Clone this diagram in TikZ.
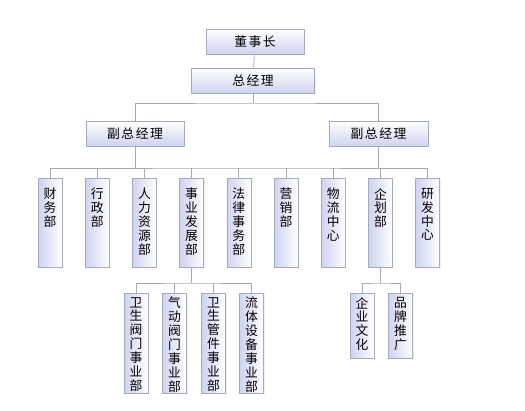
\documentclass[tikz,border=0pt]{standalone}
\usepackage{fontspec}
\newfontfamily\cjk[LetterSpace=12]{Noto Sans CJK SC}
\newfontfamily\cjkv{Noto Sans CJK SC}
\usetikzlibrary{shadows}
\definecolor{boxblue}{RGB}{206,211,240}
\definecolor{boxline}{RGB}{165,170,190}
\definecolor{linkgray}{RGB}{170,170,170}
\newcommand{\vcol}[2]{\parbox[c][#1][t]{14pt}{\centering\cjkv\fontsize{12.8}{13.9}\selectfont #2}}

\begin{document}
\begin{tikzpicture}[x=1pt, y=-1pt,
    box/.style={draw=boxline, inner sep=0pt,
                drop shadow={shadow xshift=1pt, shadow yshift=-1pt, fill=black!12}},
    hbox/.style={box, top color=white, bottom color=boxblue,
                 minimum height=25pt, font=\cjk\fontsize{12.8}{14}\selectfont},
    vbox/.style={box, left color=boxblue, right color=white,
                 minimum width=24pt, anchor=north},
    dept/.style={vbox, inner ysep=10pt},
    unit/.style={vbox, inner ysep=4pt},
    link/.style={draw=linkgray, line width=0.8pt},
  ]
  \useasboundingbox (0,0) rectangle (525,411);

  % Top
  \node[hbox, minimum width=98pt] (chair) at (255,41.5) {董事长};
  \node[hbox, minimum width=123pt] (gm) at (253,80.5) {总经理};
  \node[hbox, minimum width=98pt] (vpl) at (135,133.5) {副总经理};
  \node[hbox, minimum width=99pt] (vpr) at (378.5,134) {副总经理};

  \coordinate (bar1) at (253,103);
  \coordinate (bar2) at (253,168);

  % Departments
  \node[dept] (caiwu)  at (50,178)    {\vcol{69pt}{财\\务\\部}};
  \node[dept] (xingz)  at (97.2,178)  {\vcol{69pt}{行\\政\\部}};
  \node[dept] (renli)  at (144.4,178) {\vcol{69pt}{人\\力\\资\\源\\部}};
  \node[dept] (shiye)  at (191.6,178) {\vcol{69pt}{事\\业\\发\\展\\部}};
  \node[dept] (falv)   at (238.8,178) {\vcol{69pt}{法\\律\\事\\务\\部}};
  \node[dept] (yingx)  at (286,178)   {\vcol{69pt}{营\\销\\部}};
  \node[dept] (wuliu)  at (333.2,178) {\vcol{69pt}{物\\流\\中\\心}};
  \node[dept] (qihua)  at (380.4,178) {\vcol{69pt}{企\\划\\部}};
  \node[dept] (yanfa)  at (427.6,178) {\vcol{69pt}{研\\发\\中\\心}};

  \coordinate (bar3) at (191.6,283);
  \coordinate (bar4) at (380.4,283);

  % Business units
  \node[unit] (wsfm) at (136,293)   {\vcol{92pt}{卫\\生\\阀\\门\\事\\业\\部}};
  \node[unit] (qdfm) at (174.5,293) {\vcol{92pt}{气\\动\\阀\\门\\事\\业\\部}};
  \node[unit] (wsgj) at (213.5,293) {\vcol{92pt}{卫\\生\\管\\件\\事\\业\\部}};
  \node[unit] (ltsb) at (251.5,293) {\vcol{92pt}{流\\体\\设\\备\\事\\业\\部}};
  \node[unit] (qywh) at (362,293)   {\vcol{57pt}{企\\业\\文\\化}};
  \node[unit] (pptg) at (400.5,293) {\vcol{57pt}{品\\牌\\推\\广}};

  % Links
  \draw[link] (chair) -- (gm);
  \draw[link] (gm) -- (bar1);
  \draw[link] (vpl.north) |- (bar1) -| (vpr.north);
  \draw[link] (vpl.south) -- (vpl.south |- bar2);
  \draw[link] (vpr.south) -- (vpr.south |- bar2);
  \draw[link] (caiwu.north) |- (bar2) -| (yanfa.north);
  \foreach \d in {xingz,renli,shiye,falv,yingx,wuliu,qihua}
    \draw[link] (\d.north) -- (\d.north |- bar2);
  \draw[link] (shiye.south) -- (bar3);
  \draw[link] (wsfm.north) |- (bar3) -| (ltsb.north);
  \draw[link] (qdfm.north) -- (qdfm.north |- bar3);
  \draw[link] (wsgj.north) -- (wsgj.north |- bar3);
  \draw[link] (qihua.south) -- (bar4);
  \draw[link] (qywh.north) |- (bar4) -| (pptg.north);
\end{tikzpicture}
\end{document}
